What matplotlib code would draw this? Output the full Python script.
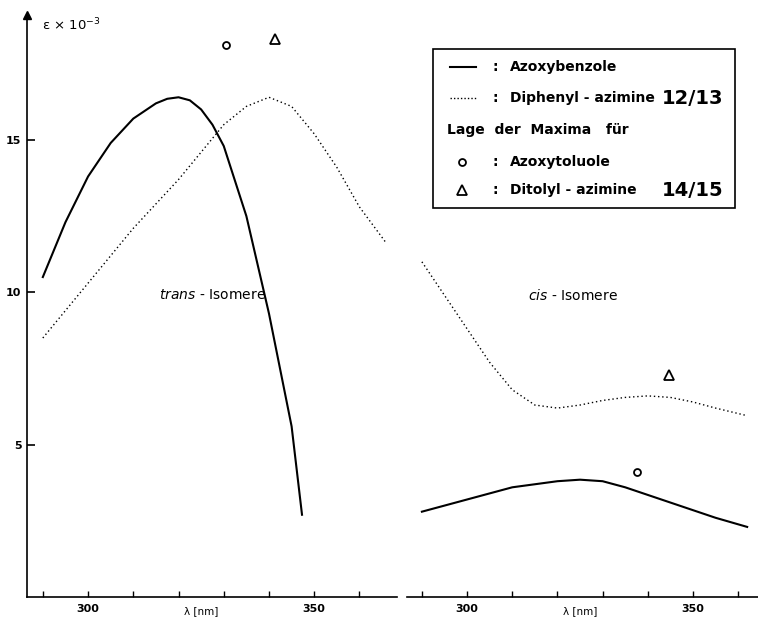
import matplotlib.pyplot as plt
from matplotlib.patches import Rectangle
from matplotlib.lines import Line2D

plt.rcParams['font.family'] = ['DejaVu Sans']

# trans-Isomere (left panel)
trans_azoxy_nm = [290, 295, 300, 305, 310, 315, 317.5, 320, 322.5, 325, 327.5, 330, 335, 340, 345, 347.3]
trans_azoxy_eps = [10.5, 12.3, 13.8, 14.9, 15.7, 16.2, 16.35, 16.4, 16.3, 16.0, 15.5, 14.8, 12.5, 9.3, 5.6, 2.7]
trans_azimin_nm = [290, 295, 300, 305, 310, 315, 320, 325, 330, 335, 340, 345, 350, 355, 360, 366]
trans_azimin_eps = [8.5, 9.4, 10.3, 11.2, 12.1, 12.9, 13.7, 14.6, 15.5, 16.1, 16.4, 16.1, 15.2, 14.1, 12.8, 11.6]

# cis-Isomere (right panel)
cis_azoxy_nm = [290, 295, 300, 305, 310, 315, 320, 325, 330, 335, 340, 345, 350, 355, 362]
cis_azoxy_eps = [2.8, 3.0, 3.2, 3.4, 3.6, 3.7, 3.8, 3.85, 3.8, 3.6, 3.35, 3.1, 2.85, 2.6, 2.3]
cis_azimin_nm = [290, 295, 300, 305, 310, 315, 320, 325, 330, 335, 340, 345, 350, 355, 362]
cis_azimin_eps = [11.0, 9.9, 8.8, 7.7, 6.8, 6.3, 6.2, 6.3, 6.45, 6.55, 6.6, 6.55, 6.4, 6.2, 5.95]

# maxima positions of the tolyl compounds
trans_toluol = (330.5, 18.1)
trans_ditolyl = (341.4, 18.3)
cis_toluol = (337.6, 4.1)
cis_ditolyl = (344.7, 7.3)

xticks = [290, 300, 310, 320, 330, 340, 350, 360]
xticklabels = ['', '300', '', '', '', '', '350', '']

fig = plt.figure(figsize=(7.58, 6.18), dpi=100)
ax1 = fig.add_axes([27 / 758, 21 / 618, 370 / 758, 582 / 618])
ax2 = fig.add_axes([407 / 758, 21 / 618, 351 / 758, 582 / 618])

for ax in (ax1, ax2):
    ax.set_ylim(0, 19.1)
    ax.set_xticks(xticks)
    ax.set_xticklabels(xticklabels, fontsize=8, fontweight='bold')
    ax.tick_params(axis='x', direction='in', length=4, width=1, pad=5)
    for s in ('top', 'right'):
        ax.spines[s].set_visible(False)
    ax.spines['bottom'].set_linewidth(1.2)
    ax.text(325, -0.45, 'λ [nm]', fontsize=7.5, ha='center', va='center')

ax1.set_xlim(286.5, 368.3)
ax2.set_xlim(286.7, 364.4)

ax1.spines['left'].set_linewidth(1.2)
ax1.set_yticks([5, 10, 15])
ax1.set_yticklabels(['5', '10', '15'], fontsize=8, fontweight='bold')
ax1.tick_params(axis='y', direction='in', length=6, width=1.2, pad=4)
ax1.plot(0, 1, marker='^', color='k', markersize=6, transform=ax1.transAxes, clip_on=False)
ax1.text(0.04, 0.982, 'ε × 10$^{-3}$', transform=ax1.transAxes, fontsize=9.5, va='center')

ax2.spines['left'].set_visible(False)
ax2.set_yticks([])

ax1.plot(trans_azoxy_nm, trans_azoxy_eps, color='k', lw=1.5)
ax1.plot(trans_azimin_nm, trans_azimin_eps, color='k', lw=1, ls=(0, (1, 2)))
ax1.plot(*trans_toluol, marker='o', mfc='white', mec='k', mew=1.3, ms=5)
ax1.plot(*trans_ditolyl, marker='^', mfc='white', mec='k', mew=1.3, ms=7)
ax1.text(327.5, 9.9, '$\\it{trans}$ - Isomere', fontsize=10, ha='center', va='center')

ax2.plot(cis_azoxy_nm, cis_azoxy_eps, color='k', lw=1.5)
ax2.plot(cis_azimin_nm, cis_azimin_eps, color='k', lw=1, ls=(0, (1, 2)))
ax2.plot(*cis_toluol, marker='o', mfc='white', mec='k', mew=1.3, ms=5)
ax2.plot(*cis_ditolyl, marker='^', mfc='white', mec='k', mew=1.3, ms=7)
ax2.text(323.5, 9.9, '$\\it{cis}$ - Isomere', fontsize=10, ha='center', va='center')

# legend box drawn in figure pixels
def fx(px):
    return px / 758

def fy(py):
    return 1 - py / 618

fig.patches.append(Rectangle((fx(433), fy(208)), fx(735) - fx(433), fy(49) - fy(208),
                             transform=fig.transFigure, fill=False, ec='k', lw=1.2))
fig.lines.append(Line2D([fx(450), fx(476)], [fy(67), fy(67)], transform=fig.transFigure,
                        color='k', lw=1.5))
fig.lines.append(Line2D([fx(450), fx(476)], [fy(98), fy(98)], transform=fig.transFigure,
                        color='k', lw=1, ls=(0, (1, 1.5))))
fig.lines.append(Line2D([fx(462)], [fy(162)], transform=fig.transFigure, marker='o',
                        mfc='white', mec='k', mew=1.3, ms=5))
fig.lines.append(Line2D([fx(462)], [fy(190)], transform=fig.transFigure, marker='^',
                        mfc='white', mec='k', mew=1.3, ms=7))
lk = dict(fontsize=10, fontweight='bold', va='center')
for py in (67, 98, 162, 190):
    fig.text(fx(492), fy(py), ':', **lk)
fig.text(fx(510), fy(67), 'Azoxybenzole', **lk)
fig.text(fx(510), fy(98), 'Diphenyl - azimine', **lk)
fig.text(fx(723), fy(98), '12/13', fontsize=14, fontweight='bold', va='center', ha='right')
fig.text(fx(447), fy(130), 'Lage  der  Maxima   für', **lk)
fig.text(fx(510), fy(162), 'Azoxytoluole', **lk)
fig.text(fx(510), fy(190), 'Ditolyl - azimine', **lk)
fig.text(fx(723), fy(190), '14/15', fontsize=14, fontweight='bold', va='center', ha='right')

fig.savefig('out.png', dpi=100)
